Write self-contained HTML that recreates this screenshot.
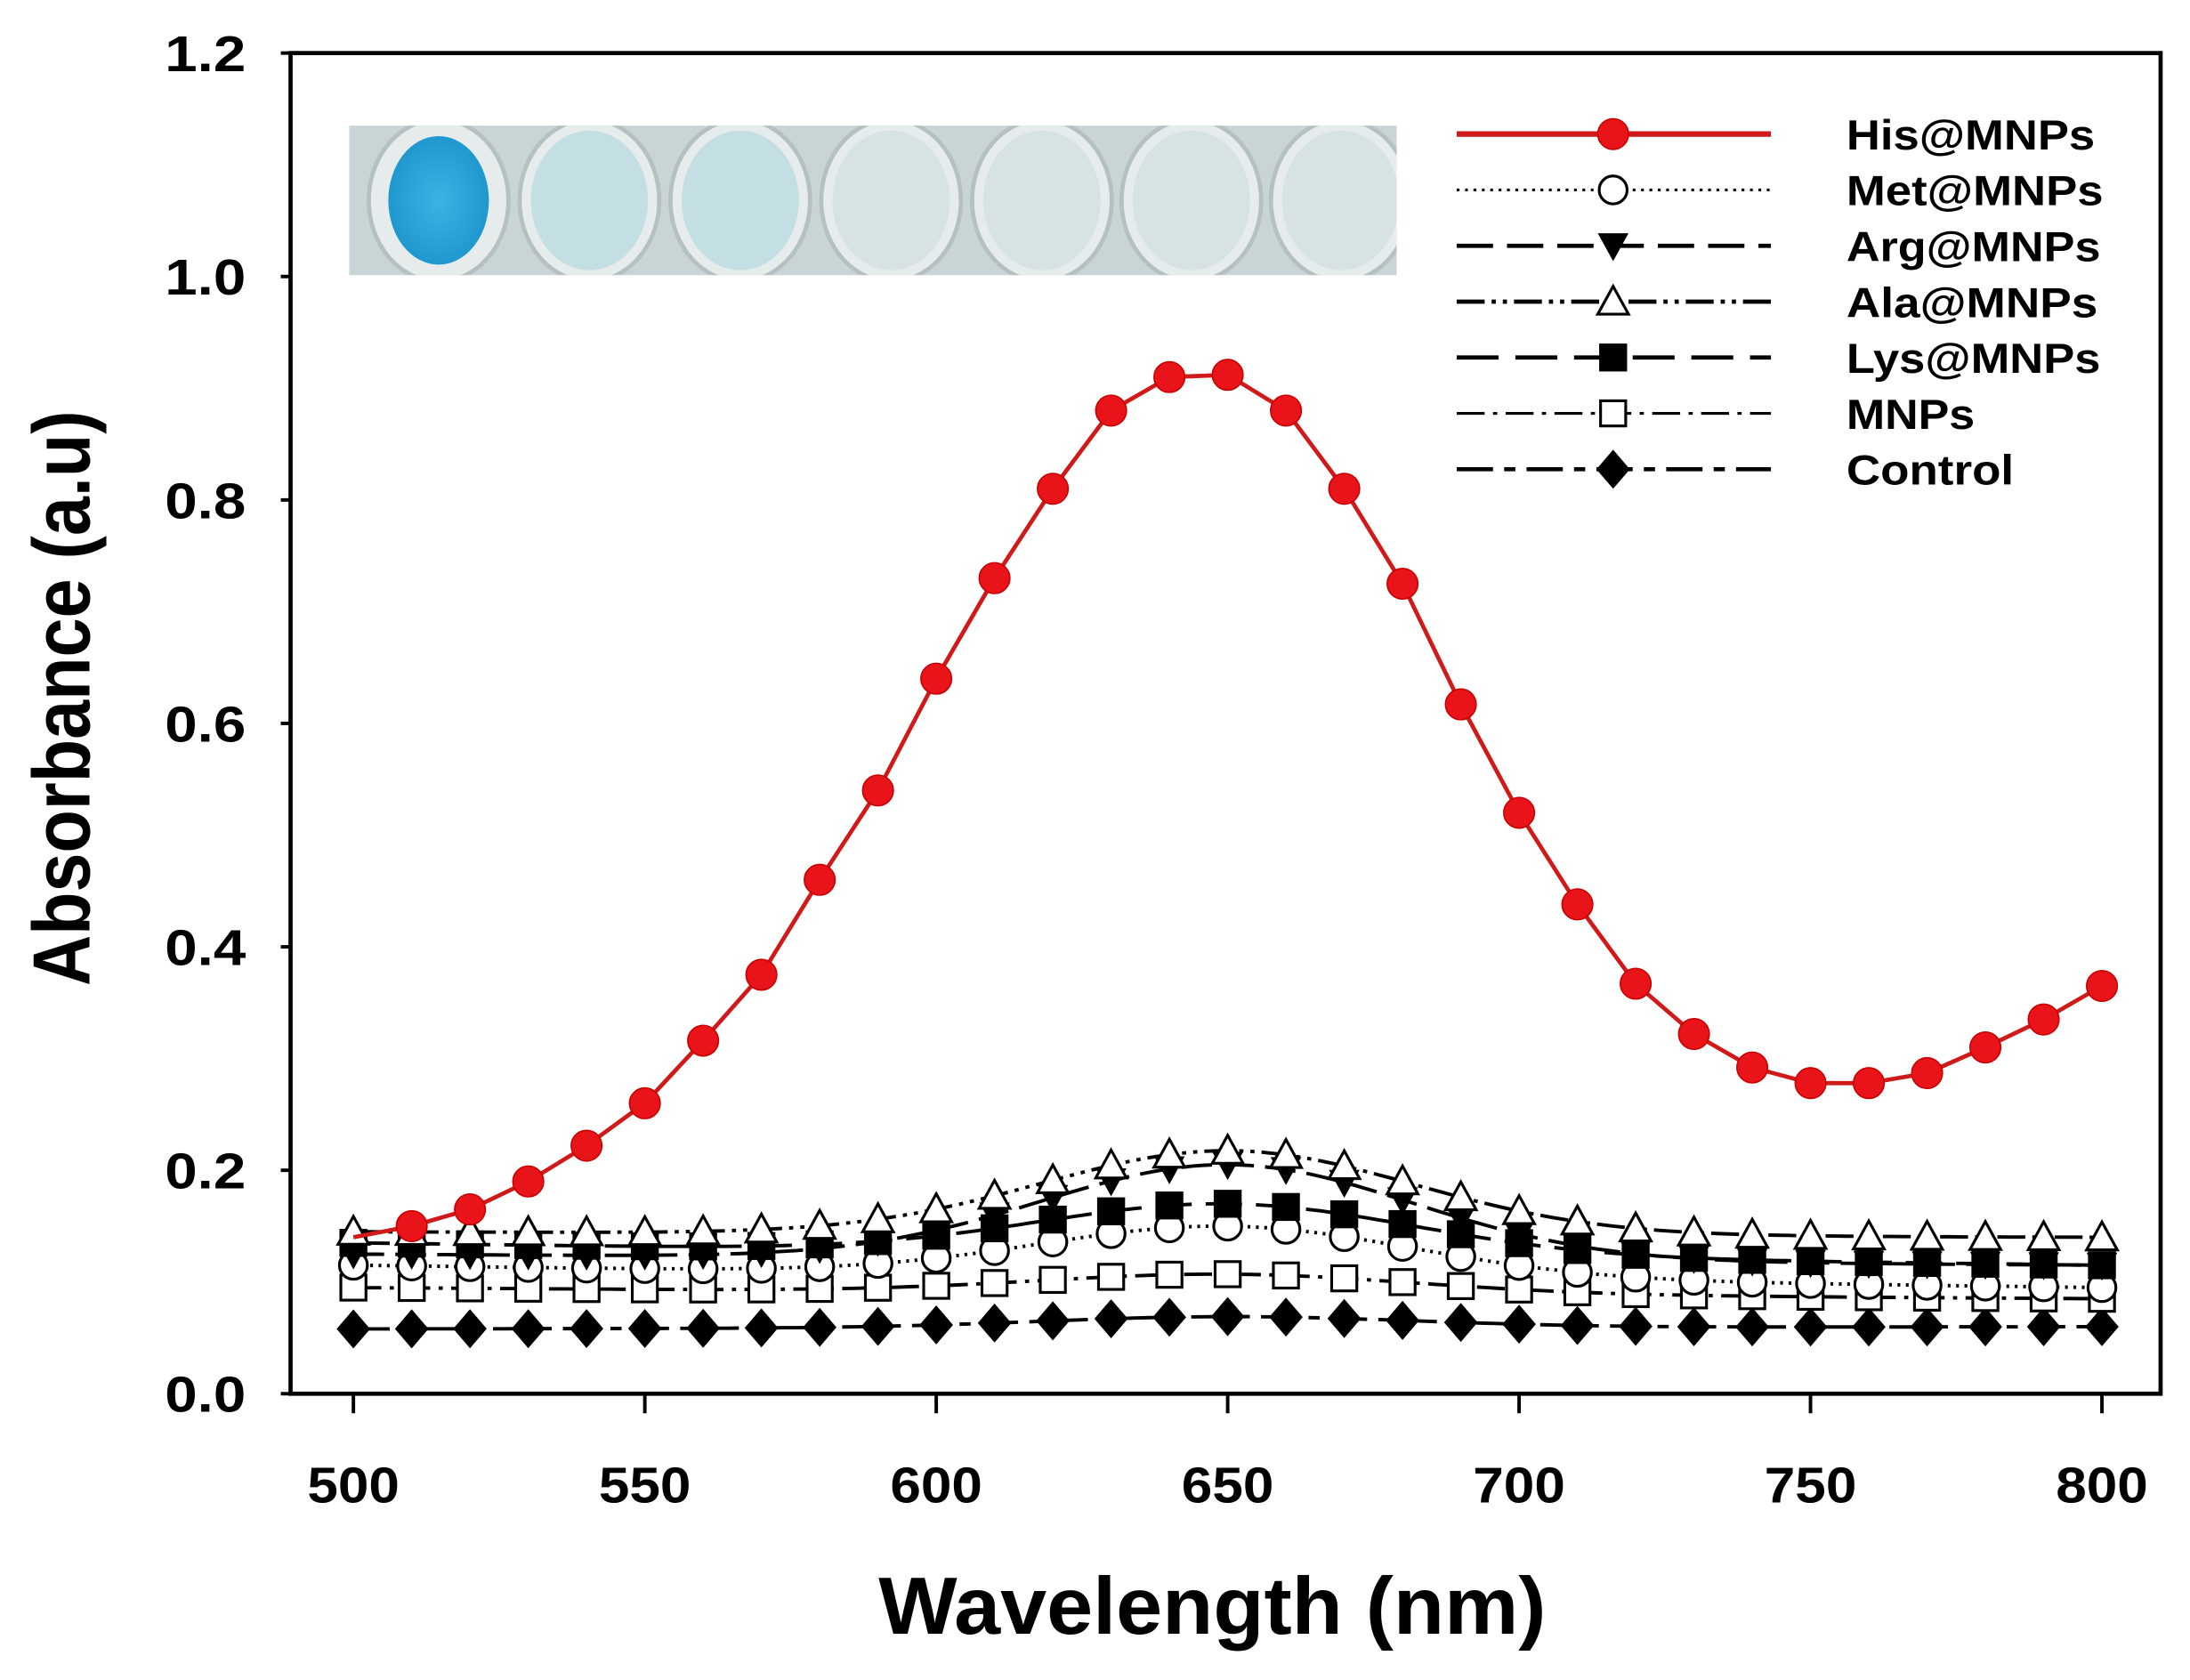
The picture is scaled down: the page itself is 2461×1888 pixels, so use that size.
<!DOCTYPE html>
<html><head><meta charset="utf-8"><style>
html,body{margin:0;padding:0;background:#fff}
svg{display:block}
text{font-family:"Liberation Sans",Arial,sans-serif;font-weight:bold;fill:#000}
</style></head><body>
<svg id="s" width="2461" height="1888" viewBox="0 0 1568 1203" xmlns="http://www.w3.org/2000/svg">
<rect width="1568" height="1203" fill="#fff"/>
<defs>
<radialGradient id="wb" cx="50%" cy="50%" r="50%"><stop offset="0" stop-color="#3db3e3"/><stop offset="1" stop-color="#1f98cf"/></radialGradient>
<clipPath id="ic"><rect x="250" y="90" width="750" height="107"/></clipPath>
</defs>
<rect x="250" y="90" width="750" height="107" fill="#c9d4d6"/>
<g id="wells" clip-path="url(#ic)"></g>
<rect x="208" y="38" width="1339" height="960" fill="none" stroke="#000" stroke-width="3"/>
<g id="ticks" stroke="#000" stroke-width="2.5"></g>
<g id="series"></g>
<g id="legend"></g>
<g font-size="36" text-anchor="end" id="ylab"></g>
<g font-size="36" text-anchor="middle" id="xlab"></g>
<text x="868" y="1170" font-size="58" text-anchor="middle" textLength="478" lengthAdjust="spacingAndGlyphs">Wavelength (nm)</text>
<text transform="translate(64,500) rotate(-90)" font-size="58" text-anchor="middle" textLength="412" lengthAdjust="spacingAndGlyphs">Absorbance (a.u)</text>
</svg>
<script>
const NS="http://www.w3.org/2000/svg";
function el(p,t,a,txt){const e=document.createElementNS(NS,t);for(const k in a)e.setAttribute(k,a[k]);if(txt!==undefined)e.textContent=txt;document.getElementById(p).appendChild(e);return e;}
const X=w=>253+(w-500)*(1505-253)/300, Y=v=>998-v*800;
const wc=[314,422,530,638,746,853,960];
wc.forEach((cx,i)=>{
 el('wells','ellipse',{cx:cx,cy:143.5,rx:50,ry:58,fill:'#e6ecec',stroke:'#b5c0c2','stroke-width':3});
 el('wells','ellipse',{cx:cx,cy:143.5,rx:i==0?36:42,ry:i==0?46:50,fill:i==0?'url(#wb)':(i<3?'#c4dfe3':'#d6e2e4')});
});
for(let i=0;i<=6;i++){const v=i*0.2,y=Y(v);
 el('ticks','line',{x1:201,y1:y,x2:208,y2:y});
 el('ylab','text',{x:176,y:y+13,textLength:58,lengthAdjust:'spacingAndGlyphs'},v.toFixed(1));}
for(let w=500;w<=800;w+=50){const x=X(w);
 el('ticks','line',{x1:x,y1:998,x2:x,y2:1012});
 el('xlab','text',{x:x,y:1076,textLength:66,lengthAdjust:'spacingAndGlyphs'},w);}
const his={500:0.14,510:0.15,520:0.165,530:0.19,540:0.222,550:0.26,560:0.316,570:0.375,580:0.46,590:0.54,600:0.64,610:0.73,620:0.81,630:0.88,640:0.91,650:0.912,660:0.88,670:0.81,680:0.725,690:0.617,700:0.52,710:0.438,720:0.367,730:0.322,740:0.292,750:0.278,760:0.278,770:0.287,780:0.31,790:0.335,800:0.365};
function g(b0,b1,a,s){return w=>b0+(b1-b0)*(w-500)/300+a*Math.exp(-Math.pow((w-650)/(s||45),2));}
const ser=[
 {f:g(0.058,0.06,0.01),m:'diamond',d:'26 8 8 8'},
 {f:g(0.095,0.085,0.017),m:'osq',d:'20 6 3 6'},
 {f:g(0.115,0.095,0.045),m:'ocirc',d:'2 4'},
 {f:g(0.135,0.115,0.045),m:'fsq',d:'26 10'},
 {f:g(0.125,0.115,0.085),m:'dtri',d:'22 8'},
 {f:g(0.145,0.14,0.075),m:'otri',d:'20 5 3 5 3 5'},
];
function marker(g,m,x,y){
 const r=10;
 if(m=='diamond')el(g,'polygon',{points:`${x},${y-14} ${x+12},${y} ${x},${y+14} ${x-12},${y}`,fill:'#000'});
 if(m=='osq')el(g,'rect',{x:x-9,y:y-9,width:18,height:18,fill:'#fff',stroke:'#000','stroke-width':2});
 if(m=='fsq')el(g,'rect',{x:x-10,y:y-10,width:20,height:20,fill:'#000'});
 if(m=='ocirc')el(g,'circle',{cx:x,cy:y,r:r,fill:'#fff',stroke:'#000','stroke-width':2});
 if(m=='dtri')el(g,'polygon',{points:`${x-11},${y-9} ${x+11},${y-9} ${x},${y+11}`,fill:'#000'});
 if(m=='otri')el(g,'polygon',{points:`${x-11},${y+9} ${x+11},${y+9} ${x},${y-11}`,fill:'#fff',stroke:'#000','stroke-width':2});
 if(m=='rc')el(g,'circle',{cx:x,cy:y,r:11,fill:'#e8141a',stroke:'#c80000','stroke-width':1});
}
ser.forEach(s=>{
 let p='';for(let w=500;w<=800;w+=2)p+=(w==500?'M':'L')+X(w).toFixed(1)+','+Y(s.f(w)).toFixed(1);
 el('series','path',{d:p,fill:'none',stroke:'#000','stroke-width':2.5,'stroke-dasharray':s.d});
 for(let w=500;w<=800;w+=10)marker('series',s.m,X(w),Y(s.f(w)));
});
let p='';const ks=Object.keys(his).map(Number);
ks.forEach((w,i)=>p+=(i?'L':'M')+X(w)+','+Y(his[w]));
el('series','path',{d:p,fill:'none',stroke:'#d01a1a','stroke-width':3,'stroke-linejoin':'round'});
ks.forEach(w=>{if(w>500)marker('series','rc',X(w),Y(his[w]));});
const leg=[['His@MNPs','rc',null,'#d01a1a',4],['Met@MNPs','ocirc','2 4','#000',2],['Arg@MNPs','dtri','26 10','#000',3],['Ala@MNPs','otri','20 5 3 5 3 5','#000',3],['Lys@MNPs','fsq','30 12','#000',3],['MNPs','osq','20 6 3 6','#000',2],['Control','diamond','26 8 8 8','#000',3]];
const lw=[178,184,182,180,182,92,120];
leg.forEach((l,i)=>{const y=96+i*40;
 const a={x1:1043,y1:y,x2:1268,y2:y,stroke:l[3],'stroke-width':l[4]};if(l[2])a['stroke-dasharray']=l[2];
 el('legend','line',a);marker('legend',l[1],1155,y);
 el('legend','text',{x:1322,y:y+11,'font-size':30,textLength:lw[i],lengthAdjust:'spacingAndGlyphs'},l[0]);});
</script>
</body></html>
